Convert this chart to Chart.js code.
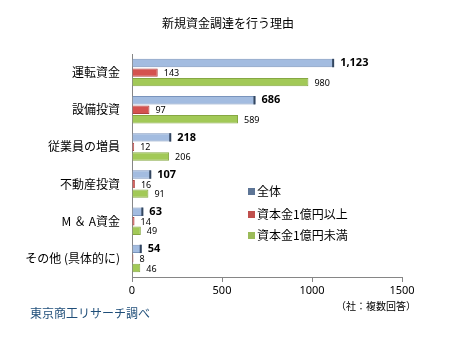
<!DOCTYPE html>
<html>
<head>
<meta charset="utf-8">
<script src="https://cdn.jsdelivr.net/npm/chart.js@4"></script>
<style>
    html, body { margin: 0; padding: 0; background: #fff; }
    #wrap { position: relative; width: 457px; height: 337px; }
</style>
</head>
<body>
<div id="wrap"><canvas id="c" width="457" height="337"></canvas></div>
<script>
const categories = ["運転資金", "設備投資", "従業員の増員", "不動産投資", "M ＆ A資金", "その他 (具体的に)"];
const seriesNames = ["全体", "資本金1億円以上", "資本金1億円未満"];
const totalValues = [1123, 686, 218, 107, 63, 54];
const largeValues = [143, 97, 12, 16, 14, 8];
const smallValues = [980, 589, 206, 91, 49, 46];
const xTicks = [0, 500, 1000, 1500];

const JP = '"Noto Sans CJK JP", "Noto Sans", sans-serif';

const fills = ["#a3bce0", "#d4524f", "#a2c957"];
const edges = ["#7a94bc", "#b04240", "#86a843"];
const legendFills = ["#5d7596", "#c0504d", "#9bbb59"];

// value labels next to bar ends
const valueLabels = {
    id: "valueLabels",
    afterDatasetsDraw(chart) {
        const ctx = chart.ctx;
        ctx.save();
        ctx.textBaseline = "middle";
        ctx.textAlign = "left";
        chart.data.datasets.forEach((ds, di) => {
            const meta = chart.getDatasetMeta(di);
            meta.data.forEach((bar, i) => {
                const v = ds.data[i];
                ctx.fillStyle = "#000";
                if (di === 0) {
                    ctx.font = "bold 11px 'Noto Sans', sans-serif";
                    ctx.fillText(v.toLocaleString("en-US"), bar.x + 6, bar.y);
                } else {
                    ctx.font = "9px 'Noto Sans', sans-serif";
                    ctx.fillText(v, bar.x + 6, bar.y + 1);
                }
            });
        });
        ctx.restore();
    }
};

// dark end caps on the bars
const barCaps = {
    id: "barCaps",
    afterDatasetsDraw(chart) {
        const ctx = chart.ctx;
        ctx.save();
        ctx.fillStyle = "#33465f";
        chart.data.datasets.forEach((ds, di) => {
            if (di !== 0) return;
            chart.getDatasetMeta(di).data.forEach((bar) => {
                ctx.fillRect(bar.x - 2, bar.y - bar.height / 2, 2, bar.height);
            });
        });
        ctx.restore();
    }
};

// title, legend, notes
const extras = {
    id: "extras",
    afterDraw(chart) {
        const ctx = chart.ctx;
        ctx.save();
        ctx.fillStyle = "#000";
        ctx.textBaseline = "middle";
        ctx.textAlign = "center";
        ctx.font = "12px " + JP;
        ctx.fillText("新規資金調達を行う理由", 228, 23);

        ctx.textAlign = "left";
        ctx.font = "12px " + JP;
        const ly = [191, 214, 235];
        chart.data.datasets.forEach((ds, di) => {
            ctx.fillStyle = legendFills[di];
            ctx.fillRect(248, ly[di] - 3, 7, 7);
            ctx.fillStyle = "#000";
            ctx.fillText(ds.label, 257, ly[di]);
        });

        ctx.font = "10px " + JP;
        ctx.fillText("（社：複数回答）", 336, 306);

        ctx.fillStyle = "#1f4e79";
        ctx.font = "12px " + JP;
        ctx.fillText("東京商工リサーチ調べ", 30, 313);
        ctx.restore();
    }
};

const dataSets = [totalValues, largeValues, smallValues].map((vals, i) => ({
    label: seriesNames[i],
    data: vals,
    backgroundColor: fills[i],
    borderColor: edges[i],
    borderWidth: {top: 1, right: 1, bottom: 1, left: 0},
    borderSkipped: false,
    categoryPercentage: 0.77,
    barPercentage: 0.88
}));

new Chart(document.getElementById("c").getContext("2d"), {
    type: "bar",
    data: { labels: categories, datasets: dataSets },
    options: {
        indexAxis: "y",
        responsive: false,
        animation: false,
        layout: { padding: { left: 0, top: 54, right: 55, bottom: 0 } },
        plugins: {
            legend: { display: false },
            title: { display: false },
            tooltip: { enabled: false }
        },
        scales: {
            x: {
                min: 0,
                max: 1500,
                afterBuildTicks: (axis) => { axis.ticks = xTicks.map(v => ({value: v})); },
                afterFit: (axis) => { axis.height = 60; },
                grid: { display: true, drawOnChartArea: false, drawTicks: true, tickLength: 5, color: "#868686" },
                border: { color: "#868686" },
                ticks: {
                    color: "#000",
                    font: { size: 11, family: "'Noto Sans', sans-serif" },
                    padding: 2,
                    callback: (v) => String(v)
                }
            },
            y: {
                afterFit: (axis) => { axis.width = 132; },
                grid: { display: false },
                border: { color: "#868686" },
                ticks: { color: "#000", font: { size: 12, family: JP }, padding: 4 }
            }
        }
    },
    plugins: [valueLabels, barCaps, extras]
});
</script>
</body>
</html>
